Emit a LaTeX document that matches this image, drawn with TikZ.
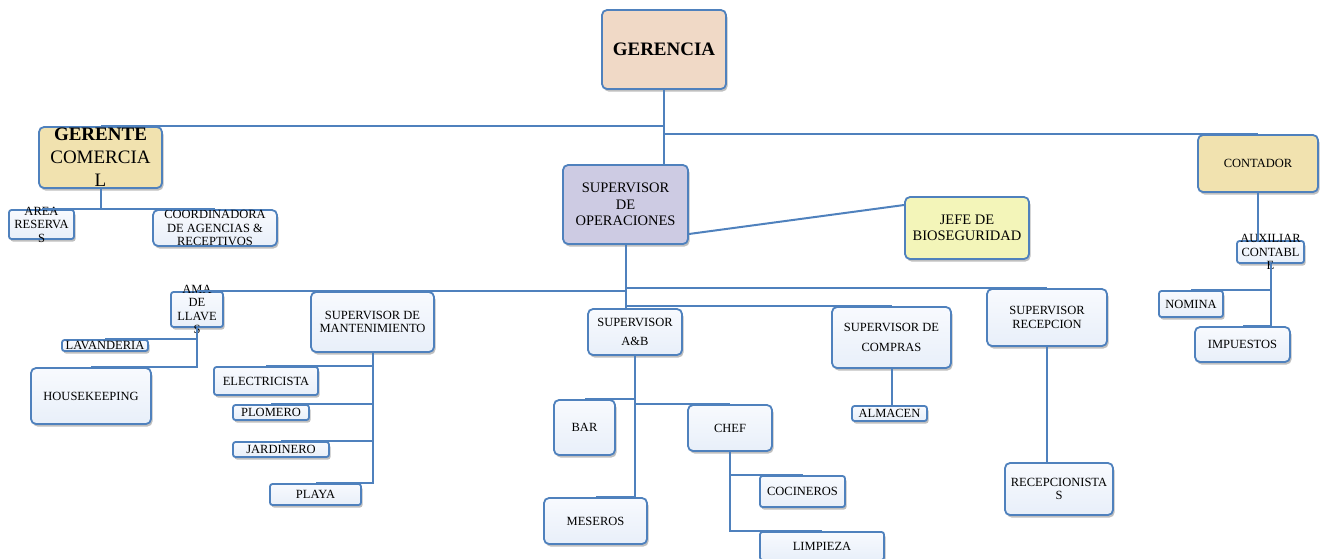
\documentclass[tikz,border=0pt]{standalone}
\usepackage{fontspec}
\setmainfont{Liberation Serif}
\usepackage{tikz}
\usetikzlibrary{positioning,shadows}
\definecolor{boxline}{HTML}{4F81BD}
\definecolor{boxtop}{HTML}{F8FAFE}
\definecolor{boxfill}{HTML}{E8EFF9}
\definecolor{peach}{HTML}{F0D9C6}
\definecolor{tan}{HTML}{F1E2AF}
\definecolor{lavender}{HTML}{CDCBE3}
\definecolor{paleyellow}{HTML}{F3F5B9}
\newcommand{\Fsm}{\fontsize{12.5}{13.5}\selectfont}
\newcommand{\Fmd}{\fontsize{14.5}{16.5}\selectfont}
\newcommand{\Flg}{\fontsize{19}{23}\selectfont}
\tikzset{%
	boxbase/.style = {draw=boxline, line width=1.8pt, rounded corners=5pt, inner sep=0pt, align=center, font=\Fsm, drop shadow={shadow xshift=1.5pt, shadow yshift=-2.5pt, fill=black, opacity=0.25}},
	box/.style     = {boxbase, top color=boxtop, bottom color=boxfill},
	colbox/.style  = {boxbase, fill=#1},
	thin box/.style = {box, rounded corners=2.5pt},
	sz/.style 2 args = {minimum width=#1pt, minimum height=#2pt},
	lbl/.style     = {align=center, font=\Fsm, inner sep=0pt},
	link/.style    = {draw=boxline, line width=2pt},
}

\begin{document}
\begin{tikzpicture}[x=1pt,y=-1pt]
	\useasboundingbox (0,0) rectangle (1325,558);
	
	\node[colbox=peach, sz={124}{79}, font=\Flg\bfseries] (ger) at (664,49.5) {GERENCIA};
	\node[colbox=tan, sz={123}{61}, label={[lbl,font=\Flg]center:{\textbf{GERENTE}\\COMERCIA\\L}}] (com) at (100.5,157.5) {};
	\node[thin box, sz={65}{29}, label={[lbl]center:{AREA\\RESERVA\\S}}] (area) at (41.5,224.5) {};
	\node[box, sz={124}{36}] (coord) at (215,228) {COORDINADORA\\DE AGENCIAS \&\\RECEPTIVOS};
	\node[colbox=lavender, sz={125}{79}, font=\Fmd] (ops) at (625.5,204.5) {SUPERVISOR\\DE\\OPERACIONES};
	\node[colbox=paleyellow, sz={124}{62}, font=\Fmd] (jefe) at (967,228) {JEFE DE\\BIOSEGURIDAD};
	\node[colbox=tan, sz={120}{57}] (cont) at (1258,163.5) {CONTADOR};
	\node[thin box, sz={67}{22}, label={[lbl]center:{AUXILIAR\\CONTABL\\E}}] (aux) at (1270.5,252) {};
	\node[thin box, sz={64}{26}] (nom) at (1191,304) {NOMINA};
	\node[box, sz={95}{35}] (imp) at (1242.5,344.5) {IMPUESTOS};
	
	\node[thin box, sz={52}{35}, label={[lbl]center:{AMA\\DE\\LLAVE\\S}}] (ama) at (197,309.5) {};
	\node[thin box, sz={86}{11}] (lav) at (105,345.5) {LAVANDERIA};
	\node[box, sz={120}{56}] (hk) at (91,396) {HOUSEKEEPING};
	\node[box, sz={123}{60}] (mant) at (372.5,322) {SUPERVISOR DE\\MANTENIMIENTO};
	\node[thin box, sz={104}{28}] (elec) at (266,381) {ELECTRICISTA};
	\node[thin box, sz={76}{15}] (plo) at (271,412.5) {PLOMERO};
	\node[thin box, sz={96}{15}] (jar) at (281,449.5) {JARDINERO};
	\node[thin box, sz={91}{21}] (playa) at (315.5,494.5) {PLAYA};
	
	\node[box, sz={94}{46}] (ab) at (635,332) {SUPERVISOR\\[6pt]A\&B};
	\node[box, sz={61}{55}] (bar) at (584.5,427.5) {BAR};
	\node[box, sz={84}{46}] (chef) at (730,428) {CHEF};
	\node[box, sz={103}{46}] (mes) at (595.5,521) {MESEROS};
	\node[thin box, sz={85}{31}] (coc) at (802.5,491.5) {COCINEROS};
	\node[thin box, sz={124}{28}] (limp) at (822,546) {LIMPIEZA};
	
	\node[box, sz={119}{61}] (comp) at (891.5,337.5) {SUPERVISOR DE\\[6pt]COMPRAS};
	\node[thin box, sz={75}{15}] (alm) at (889.5,413.5) {ALMACEN};
	\node[box, sz={120}{57}] (rec) at (1047,317.5) {SUPERVISOR\\RECEPCION};
	\node[box, sz={108}{52}] (recs) at (1059,489) {RECEPCIONISTA\\S};
	
	\draw[link] (ger.south) |- (com.north);
	\draw[link] (ger.south) |- (cont.north);
	\draw[link] (ger.south) -- (ger.south |- ops.north);
	\draw[link] ([yshift=-29.5pt]ops.east) -- ([yshift=23pt]jefe.west);
	
	\draw[link] (com.south) |- (area.north);
	\draw[link] (com.south) |- (coord.north);
	
	\draw[link] (cont.south) -- (cont.south |- aux.north);
	\draw[link] (aux.south) |- (nom.north);
	\draw[link] (aux.south) |- (imp.north);
	
	\draw[link] (ops.south) -- (ops.south |- ab.north);
	\draw[link] (ops.south |- ama.north) -- (ama.north);
	\draw[link] (ops.south |- rec.north) -- (rec.north);
	\draw[link] (ops.south |- comp.north) -- (comp.north);
	
	\draw[link] (ama.south) |- (lav.north);
	\draw[link] (ama.south) |- (hk.north);
	
	\draw[link] (mant.south) |- (elec.north);
	\draw[link] (mant.south) |- (plo.north);
	\draw[link] (mant.south) |- (jar.north);
	\draw[link] (mant.south) |- (playa.north);
	
	\draw[link] (ab.south) |- (bar.north);
	\draw[link] (ab.south) |- (chef.north);
	\draw[link] (ab.south) |- (mes.north);
	\draw[link] (chef.south) |- (coc.north);
	\draw[link] (chef.south) |- (limp.north);
	
	\draw[link] (comp.south) -- (comp.south |- alm.north);
	\draw[link] (rec.south) -- (rec.south |- recs.north);
\end{tikzpicture}
\end{document}
